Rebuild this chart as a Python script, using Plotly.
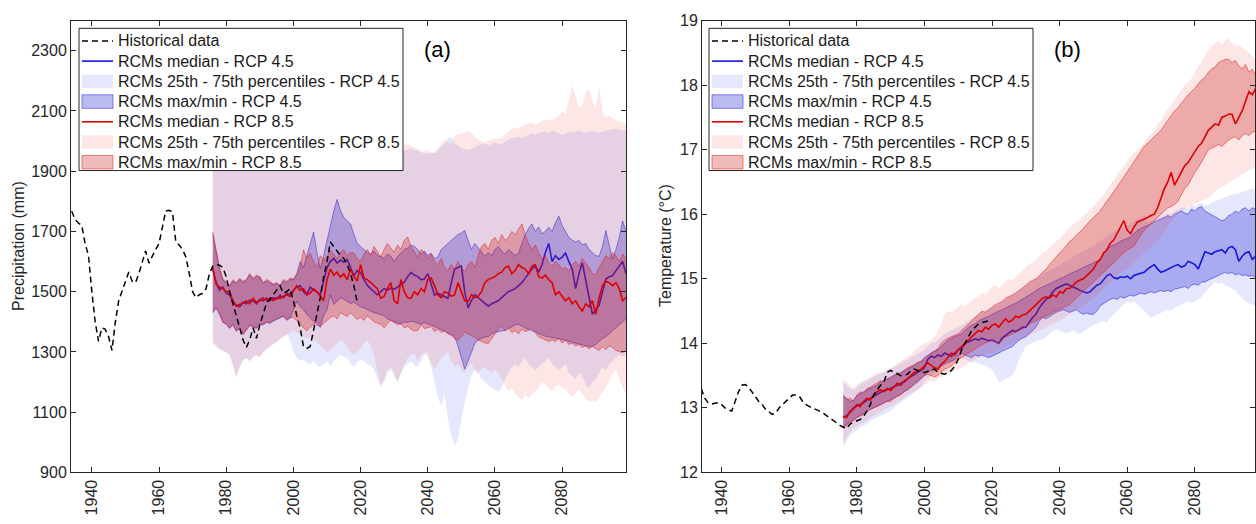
import plotly.graph_objects as go

W, H = 1256, 524
FONT = "Liberation Sans, Arial, sans-serif"
TXT = "#262626"

# ---------------- data ----------------
HIST_START = 1934
PROJ_START = 1976
XTICKS = [1940, 1960, 1980, 2000, 2020, 2040, 2060, 2080]
YTICKS_A = [900, 1100, 1300, 1500, 1700, 1900, 2100, 2300]
YTICKS_B = [12, 13, 14, 15, 16, 17, 18, 19]

# Panel (a): precipitation (mm)
HIST_A = [1767, 1740, 1728, 1720, 1660, 1620,
          1500, 1400, 1335, 1380, 1375, 1350, 1305, 1400, 1470, 1500,
          1530, 1565, 1535, 1530, 1560, 1600, 1635, 1595, 1620, 1640,
          1660, 1720, 1768, 1770, 1765, 1665, 1655, 1640, 1615, 1560,
          1500, 1480, 1490, 1495, 1510, 1560, 1585, 1590, 1588, 1580,
          1550, 1500, 1460, 1425, 1380, 1340, 1315, 1340, 1380, 1345,
          1390, 1430, 1462, 1475, 1490, 1505, 1520, 1495, 1500, 1510,
          1470, 1420, 1380, 1318, 1312, 1318, 1370, 1420, 1480, 1550,
          1600, 1665, 1650, 1635, 1620, 1610, 1590, 1560, 1520, 1465]

MED45_A = [1575, 1530, 1505, 1515, 1495, 1490, 1465, 1455, 1450, 1465,
           1460, 1472, 1470, 1460, 1475, 1470, 1478, 1470, 1480, 1475,
           1488, 1480, 1495, 1490, 1505, 1515, 1520, 1500, 1490, 1515,
           1505, 1500, 1490, 1540, 1580, 1600, 1610, 1595, 1605, 1598,
           1607, 1580, 1553, 1570, 1564, 1540, 1521, 1510, 1500, 1489,
           1500, 1510, 1505, 1512, 1508, 1515, 1525, 1532, 1550, 1564,
           1555, 1550, 1540, 1542, 1560, 1520, 1489, 1495, 1490, 1485,
           1478, 1530, 1575, 1580, 1585, 1500, 1446, 1470, 1490, 1480,
           1470, 1460, 1452, 1460, 1465, 1470, 1480, 1490, 1500, 1505,
           1510, 1520, 1530, 1545, 1560, 1575, 1585, 1565, 1590, 1630,
           1660, 1600, 1620, 1607, 1615, 1628, 1600, 1575, 1510, 1560,
           1596, 1540, 1480, 1425, 1440, 1455, 1500, 1542, 1550, 1553,
           1570, 1585, 1600, 1560]

MED85_A = [1580, 1525, 1515, 1510, 1500, 1500, 1470, 1452, 1458, 1462,
           1470, 1460, 1478, 1465, 1470, 1480, 1470, 1478, 1470, 1480,
           1478, 1485, 1490, 1484, 1500, 1520, 1505, 1510, 1490, 1495,
           1510, 1500, 1485, 1470, 1540, 1575, 1555, 1565, 1548, 1560,
           1540, 1575, 1550, 1535, 1590, 1545, 1540, 1530, 1520, 1510,
           1478, 1485, 1510, 1530, 1470, 1460, 1540, 1500, 1480, 1478,
           1500, 1490, 1510, 1500, 1540, 1545, 1520, 1490, 1480, 1500,
           1495, 1485, 1490, 1530, 1500, 1470, 1468, 1490, 1480, 1485,
           1500, 1530, 1540, 1545, 1550, 1560, 1565, 1580, 1585, 1560,
           1570, 1590, 1580, 1575, 1560, 1585, 1590, 1550, 1545, 1555,
           1540, 1530, 1490, 1500, 1485, 1470, 1480, 1460, 1470, 1450,
           1436, 1460, 1450, 1470, 1425, 1480, 1520, 1535, 1530, 1520,
           1530, 1510, 1470, 1480]

P25_45_LO_A = [1334, 1320, 1310, 1305, 1300, 1290, 1260, 1216, 1250, 1275,
               1280, 1270, 1285, 1290, 1285, 1300, 1310, 1320, 1328, 1335,
               1345, 1350, 1360, 1340, 1300, 1280, 1270, 1275, 1265, 1260,
               1270, 1255, 1250, 1260, 1270, 1253, 1270, 1280, 1290, 1285,
               1280, 1260, 1250, 1265, 1275, 1270, 1260, 1255, 1240, 1210,
               1185, 1200, 1230, 1240, 1220, 1200, 1230, 1250, 1260, 1270,
               1255, 1250, 1270, 1290, 1300, 1250, 1200, 1150, 1120, 1160,
               1080, 1020, 987, 1010, 1080, 1134, 1180, 1220, 1240, 1230,
               1210, 1200, 1190, 1180, 1175, 1167, 1180, 1210, 1230, 1250,
               1260, 1250, 1270, 1280, 1260, 1250, 1240, 1250, 1260, 1270,
               1280, 1260, 1250, 1240, 1250, 1260, 1230, 1220, 1210, 1230,
               1220, 1190, 1180, 1200, 1210, 1230, 1250, 1240, 1260, 1270,
               1280, 1290, 1285, 1290]
P25_45_HI_A = [1960, 1955, 1948, 1952, 1945, 1950, 1958, 1950, 1945, 1955,
               1960, 1952, 1948, 1955, 1962, 1958, 1950, 1955, 1960, 1965,
               1958, 1952, 1960, 1968, 1962, 1955, 1960, 1965, 1958, 1962,
               1970, 1965, 1958, 1962, 1968, 1960, 1955, 1962, 1970, 1965,
               1960, 1958, 1965, 1970, 1962, 1958, 1965, 1960, 1955, 1962,
               1968, 1960, 1955, 1962, 1958, 1965, 1965, 1968, 1972, 1975,
               1970, 1968, 1962, 1960, 1958, 1962, 1960, 1968, 1980, 1992,
               2010, 2014, 1990, 1985, 1975, 1972, 1970, 1975, 1980, 1985,
               1990, 1992, 1985, 1990, 1995, 1992, 1990, 1998, 2005, 2010,
               2012, 2014, 2010, 2015, 2020, 2025, 2022, 2028, 2030, 2032,
               2028, 2035, 2030, 2025, 2020, 2025, 2030, 2028, 2032, 2035,
               2030, 2028, 2032, 2035, 2030, 2028, 2032, 2035, 2038, 2040,
               2042, 2038, 2035, 2035]
MM45_LO_A = [1430, 1445, 1425, 1398, 1392, 1378, 1390, 1368, 1378, 1358,
             1372, 1388, 1382, 1378, 1392, 1390, 1398, 1395, 1402, 1408,
             1412, 1418, 1405, 1412, 1440, 1468, 1450, 1440, 1425, 1414,
             1400, 1390, 1382, 1420, 1440, 1489, 1457, 1470, 1480, 1475,
             1468, 1460, 1465, 1457, 1450, 1446, 1440, 1435, 1430, 1428,
             1425, 1420, 1410, 1405, 1400, 1395, 1392, 1400, 1398, 1402,
             1400, 1395, 1392, 1398, 1392, 1390, 1385, 1380, 1375, 1370,
             1365, 1358, 1350, 1320, 1280, 1243, 1270, 1300, 1328, 1340,
             1345, 1350, 1350, 1360, 1365, 1368, 1370, 1371, 1378, 1385,
             1390, 1392, 1385, 1380, 1375, 1370, 1365, 1360, 1355, 1352,
             1350, 1348, 1345, 1342, 1340, 1339, 1335, 1332, 1330, 1328,
             1325, 1320, 1318, 1320, 1325, 1335, 1345, 1350, 1360, 1370,
             1380, 1392, 1400, 1410]
MM45_HI_A = [1690, 1630, 1575, 1540, 1525, 1518, 1535, 1528, 1540, 1530,
             1538, 1555, 1540, 1550, 1548, 1528, 1535, 1530, 1522, 1528,
             1518, 1535, 1530, 1540, 1540, 1560, 1600, 1580, 1620, 1660,
             1698, 1630, 1575, 1620, 1671, 1720, 1767, 1806, 1770, 1746,
             1735, 1725, 1690, 1660, 1650, 1639, 1630, 1625, 1635, 1620,
             1617, 1610, 1625, 1618, 1600, 1617, 1630, 1640, 1645, 1655,
             1650, 1640, 1625, 1635, 1620, 1628, 1610, 1615, 1640, 1650,
             1660, 1671, 1680, 1690, 1695, 1703, 1670, 1640, 1660, 1645,
             1630, 1617, 1630, 1620, 1640, 1650, 1635, 1625, 1640, 1630,
             1620, 1628, 1660, 1690, 1710, 1725, 1700, 1715, 1692, 1700,
             1714, 1700, 1730, 1751, 1720, 1700, 1680, 1671, 1665, 1670,
             1655, 1660, 1640, 1630, 1620, 1617, 1650, 1703, 1650, 1607,
             1640, 1680, 1735, 1700]
P25_85_LO_A = [1330, 1318, 1308, 1302, 1298, 1288, 1255, 1215, 1248, 1272,
               1278, 1268, 1282, 1288, 1282, 1298, 1308, 1318, 1325, 1332,
               1342, 1348, 1356, 1362, 1370, 1365, 1355, 1350, 1345, 1350,
               1340, 1330, 1320, 1310, 1300, 1308, 1320, 1330, 1340, 1335,
               1320, 1300, 1290, 1300, 1310, 1330, 1340, 1320, 1290, 1240,
               1189, 1210, 1240, 1250, 1230, 1200, 1230, 1260, 1280, 1290,
               1296, 1270, 1290, 1300, 1280, 1260, 1243, 1260, 1280, 1290,
               1300, 1270, 1250, 1260, 1240, 1230, 1250, 1260, 1240, 1230,
               1245, 1250, 1240, 1230, 1243, 1230, 1210, 1190, 1170, 1180,
               1160, 1150, 1140, 1155, 1147, 1160, 1170, 1180, 1200, 1190,
               1180, 1170, 1185, 1190, 1180, 1175, 1160, 1150, 1165, 1175,
               1160, 1145, 1135, 1140, 1134, 1150, 1165, 1180, 1200, 1230,
               1240, 1210, 1180, 1160]
P25_85_HI_A = [1985, 1980, 1975, 1978, 1972, 1978, 1985, 1975, 1970, 1980,
               1988, 1978, 1972, 1980, 1990, 1985, 1975, 1980, 1988, 1992,
               1985, 1978, 1988, 1995, 1990, 1982, 1988, 1992, 1985, 1990,
               1998, 1992, 1985, 1990, 1995, 1988, 1982, 1990, 1998, 1992,
               1988, 1985, 1992, 1998, 1990, 1985, 1992, 1988, 1982, 1990,
               1995, 1988, 1982, 1990, 1985, 1992, 1992, 1985, 1990, 1982,
               1978, 1975, 1968, 1965, 1970, 1960, 1962, 1975, 1990, 2005,
               1995, 1990, 2018, 2022, 2025, 2030, 2032, 2025, 2015, 2005,
               2000, 1995, 2000, 2005, 2010, 2008, 2012, 2020, 2030, 2040,
               2045, 2040, 2050, 2055, 2060, 2062, 2055, 2060, 2068, 2070,
               2072, 2070, 2075, 2085, 2099, 2090, 2140, 2185, 2150, 2110,
               2120, 2160, 2174, 2130, 2110, 2180, 2100, 2080, 2085, 2075,
               2070, 2065, 2060, 2057]
MM85_LO_A = [1433, 1450, 1430, 1400, 1395, 1380, 1392, 1371, 1380, 1360,
             1375, 1390, 1385, 1380, 1395, 1392, 1400, 1398, 1405, 1410,
             1415, 1420, 1408, 1415, 1414, 1405, 1395, 1380, 1370, 1382,
             1390, 1400, 1385, 1395, 1405, 1414, 1420, 1410, 1430, 1425,
             1418, 1430, 1420, 1408, 1415, 1405, 1420, 1410, 1400, 1395,
             1392, 1380, 1395, 1405, 1398, 1390, 1395, 1380, 1385, 1375,
             1370, 1371, 1390, 1378, 1380, 1385, 1368, 1375, 1365, 1370,
             1360, 1355, 1345, 1339, 1350, 1365, 1360, 1355, 1348, 1340,
             1335, 1330, 1328, 1345, 1360, 1375, 1385, 1370, 1380, 1365,
             1370, 1360, 1375, 1368, 1372, 1380, 1365, 1350, 1345, 1340,
             1335, 1340, 1335, 1345, 1330, 1338, 1325, 1330, 1320, 1325,
             1315, 1320, 1310, 1318, 1312, 1305, 1318, 1308, 1320, 1315,
             1305, 1300, 1297, 1310]
MM85_HI_A = [1698, 1640, 1580, 1542, 1530, 1521, 1540, 1530, 1545, 1535,
             1540, 1560, 1545, 1555, 1550, 1530, 1540, 1535, 1525, 1530,
             1521, 1540, 1535, 1545, 1542, 1555, 1580, 1639, 1610, 1628,
             1600, 1580, 1620, 1605, 1615, 1639, 1625, 1610, 1630, 1639,
             1620, 1630, 1628, 1610, 1600, 1625, 1640, 1620, 1650, 1630,
             1615, 1640, 1660, 1645, 1630, 1655, 1640, 1670, 1682, 1650,
             1630, 1615, 1640, 1630, 1610, 1625, 1600, 1590, 1610, 1580,
             1570, 1590, 1575, 1600, 1580, 1565, 1590, 1600, 1580, 1620,
             1650, 1660, 1640, 1670, 1680, 1660, 1690, 1670, 1680, 1700,
             1690, 1710, 1725, 1690, 1660, 1640, 1655, 1630, 1610, 1620,
             1595, 1585, 1600, 1590, 1575, 1580, 1570, 1590, 1600, 1585,
             1610, 1595, 1580, 1560, 1555, 1580, 1600, 1620, 1610, 1630,
             1620, 1600, 1625, 1610]

# Panel (b): temperature (deg C)
HIST_B = [13.30, 13.15, 13.08, 13.06, 13.07, 13.08,
          13.05, 13.00, 12.97, 12.95, 13.10, 13.25, 13.35, 13.36, 13.32, 13.25,
          13.18, 13.10, 13.05, 12.98, 12.94, 12.90, 12.92, 13.00, 13.05, 13.10,
          13.15, 13.20, 13.20, 13.18, 13.10, 13.05, 13.02, 13.00, 12.97, 12.95,
          12.92, 12.88, 12.85, 12.80, 12.77, 12.73, 12.70, 12.68, 12.75, 12.78,
          12.80, 12.82, 12.87, 12.95, 13.05, 13.20, 13.27, 13.35, 13.40, 13.55,
          13.58, 13.55, 13.52, 13.50, 13.51, 13.52, 13.58, 13.60, 13.58, 13.55,
          13.55, 13.57, 13.58, 13.60, 13.55, 13.53, 13.52, 13.55, 13.58, 13.65,
          13.75, 13.90, 14.00, 14.12, 14.20, 14.25, 14.30, 14.32, 14.34, 14.35]

MED45_B = [12.85, 12.88, 12.93, 13.00, 13.03, 13.05, 13.08, 13.12, 13.15, 13.18,
           13.22, 13.25, 13.27, 13.28, 13.30, 13.32, 13.35, 13.38, 13.40, 13.45,
           13.48, 13.52, 13.55, 13.58, 13.62, 13.75, 13.80, 13.78, 13.82, 13.80,
           13.85, 13.83, 13.80, 13.85, 13.90, 13.92, 14.00, 14.02, 14.05, 14.07,
           14.05, 14.08, 14.06, 14.04, 14.05, 14.02, 14.00, 14.08, 14.12, 14.15,
           14.20, 14.18, 14.22, 14.25, 14.25, 14.32, 14.40, 14.45, 14.55, 14.62,
           14.68, 14.72, 14.80, 14.85, 14.88, 14.90, 14.92, 14.90, 14.88, 14.85,
           14.82, 14.80, 14.78, 14.80, 14.85, 14.90, 14.92, 14.98, 15.05, 15.07,
           15.02, 15.00, 15.03, 15.02, 15.04, 15.00, 15.05, 15.07, 15.08, 15.10,
           15.15, 15.18, 15.22, 15.15, 15.10, 15.12, 15.15, 15.17, 15.20, 15.22,
           15.18, 15.20, 15.27, 15.25, 15.22, 15.15, 15.30, 15.42, 15.40, 15.38,
           15.42, 15.44, 15.45, 15.40, 15.48, 15.50, 15.45, 15.27, 15.35, 15.40,
           15.42, 15.30, 15.35, 15.38]

MED85_B = [12.87, 12.85, 12.95, 12.98, 13.05, 13.02, 13.10, 13.15, 13.12, 13.20,
           13.25, 13.28, 13.25, 13.30, 13.27, 13.33, 13.38, 13.35, 13.42, 13.45,
           13.50, 13.55, 13.57, 13.60, 13.65, 13.70, 13.66, 13.62, 13.60, 13.68,
           13.72, 13.78, 13.85, 13.82, 13.90, 13.95, 14.00, 14.05, 14.10, 14.15,
           14.20, 14.18, 14.25, 14.22, 14.28, 14.30, 14.25, 14.32, 14.38, 14.33,
           14.36, 14.42, 14.40, 14.44, 14.45, 14.50, 14.55, 14.60, 14.65, 14.70,
           14.72, 14.70, 14.75, 14.72, 14.80, 14.78, 14.85, 14.85, 14.90, 14.95,
           14.98, 15.00, 15.05, 15.10, 15.15, 15.25, 15.30, 15.40, 15.45, 15.55,
           15.60, 15.70, 15.80, 15.90, 15.75, 15.70, 15.80, 15.88, 15.90, 15.92,
           15.95, 15.98, 16.00, 16.10, 16.25, 16.40, 16.50, 16.65, 16.45, 16.55,
           16.65, 16.75, 16.80, 16.88, 16.95, 17.05, 17.10, 17.20, 17.30, 17.35,
           17.40, 17.38, 17.50, 17.52, 17.55, 17.55, 17.40, 17.50, 17.60, 17.75,
           17.90, 17.85, 17.95, 17.85]

P25_45_LO_B = [12.40, 12.50, 12.58, 12.62, 12.65, 12.70, 12.72, 12.75, 12.80, 12.82,
               12.85, 12.88, 12.90, 12.93, 12.95, 13.00, 13.05, 13.08, 13.12, 13.15,
               13.20, 13.24, 13.28, 13.32, 13.40, 13.45, 13.50, 13.55, 13.58, 13.62,
               13.66, 13.70, 13.70, 13.72, 13.74, 13.76, 13.75, 13.72, 13.70, 13.72,
               13.70, 13.68, 13.65, 13.62, 13.60, 13.50, 13.40, 13.42, 13.45, 13.48,
               13.50, 13.60, 13.75, 13.85, 13.95, 13.98, 14.00, 14.02, 14.05, 14.05,
               14.10, 14.15, 14.20, 14.22, 14.20, 14.18, 14.15, 14.18, 14.20, 14.16,
               14.15, 14.18, 14.22, 14.25, 14.28, 14.30, 14.32, 14.35, 14.32, 14.40,
               14.45, 14.50, 14.55, 14.60, 14.65, 14.62, 14.65, 14.60, 14.55, 14.50,
               14.45, 14.40, 14.42, 14.45, 14.48, 14.50, 14.52, 14.50, 14.55, 14.58,
               14.60, 14.62, 14.65, 14.63, 14.65, 14.68, 14.72, 14.78, 14.85, 14.90,
               14.95, 14.92, 14.95, 14.90, 14.88, 14.85, 14.82, 14.75, 14.70, 14.65,
               14.62, 14.60, 14.58, 14.55]
P25_45_HI_B = [13.40, 13.35, 13.30, 13.28, 13.32, 13.36, 13.40, 13.42, 13.45, 13.48,
               13.52, 13.55, 13.54, 13.58, 13.60, 13.63, 13.66, 13.68, 13.72, 13.75,
               13.78, 13.80, 13.84, 13.86, 13.90, 13.95, 14.00, 14.02, 14.05, 14.10,
               14.15, 14.18, 14.20, 14.22, 14.25, 14.28, 14.32, 14.35, 14.38, 14.42,
               14.45, 14.48, 14.50, 14.52, 14.55, 14.58, 14.60, 14.64, 14.68, 14.72,
               14.75, 14.78, 14.82, 14.86, 14.90, 14.93, 14.96, 15.00, 15.04, 15.08,
               15.10, 15.12, 15.15, 15.18, 15.20, 15.24, 15.28, 15.30, 15.34, 15.38,
               15.40, 15.42, 15.45, 15.48, 15.50, 15.55, 15.58, 15.62, 15.66, 15.70,
               15.72, 15.75, 15.78, 15.80, 15.82, 15.85, 15.90, 15.92, 15.95, 15.98,
               15.88, 15.90, 15.92, 15.93, 15.95, 15.98, 16.02, 16.00, 16.05, 16.08,
               16.10, 16.10, 16.08, 16.14, 16.12, 16.16, 16.18, 16.14, 16.15, 16.18,
               16.20, 16.22, 16.24, 16.26, 16.28, 16.30, 16.32, 16.32, 16.35, 16.36,
               16.38, 16.40, 16.40, 16.38]
MM45_LO_B = [12.70, 12.75, 12.78, 12.82, 12.85, 12.88, 12.92, 12.95, 12.98, 13.00,
             13.03, 13.05, 13.08, 13.10, 13.12, 13.15, 13.18, 13.22, 13.25, 13.28,
             13.32, 13.35, 13.40, 13.45, 13.50, 13.55, 13.58, 13.60, 13.62, 13.65,
             13.68, 13.70, 13.72, 13.75, 13.80, 13.85, 13.82, 13.80, 13.78, 13.82,
             13.80, 13.82, 13.80, 13.78, 13.80, 13.82, 13.85, 13.88, 13.90, 13.92,
             13.95, 14.00, 14.05, 14.08, 14.10, 14.15, 14.20, 14.25, 14.35, 14.40,
             14.38, 14.42, 14.45, 14.48, 14.50, 14.52, 14.50, 14.48, 14.50, 14.52,
             14.48, 14.45, 14.47, 14.45, 14.45, 14.50, 14.58, 14.62, 14.65, 14.68,
             14.70, 14.68, 14.72, 14.70, 14.72, 14.75, 14.73, 14.75, 14.78, 14.76,
             14.78, 14.80, 14.78, 14.80, 14.82, 14.80, 14.82, 14.80, 14.84, 14.85,
             14.86, 14.88, 14.85, 14.90, 14.92, 14.90, 14.95, 14.95, 14.98, 15.00,
             15.02, 15.05, 15.08, 15.10, 15.08, 15.10, 15.06, 15.08, 15.05, 15.06,
             15.04, 15.05, 15.02, 15.00]
MM45_HI_B = [13.18, 13.15, 13.10, 13.12, 13.18, 13.22, 13.25, 13.28, 13.30, 13.32,
             13.35, 13.40, 13.42, 13.45, 13.48, 13.50, 13.52, 13.55, 13.58, 13.60,
             13.62, 13.65, 13.70, 13.72, 13.78, 13.82, 13.85, 13.88, 13.90, 13.95,
             14.00, 14.05, 14.08, 14.10, 14.12, 14.15, 14.20, 14.25, 14.28, 14.30,
             14.35, 14.38, 14.40, 14.42, 14.45, 14.48, 14.50, 14.52, 14.55, 14.58,
             14.60, 14.62, 14.65, 14.68, 14.72, 14.75, 14.78, 14.82, 14.85, 14.88,
             14.90, 14.92, 14.95, 14.98, 15.00, 15.02, 15.05, 15.08, 15.10, 15.12,
             15.15, 15.18, 15.20, 15.22, 15.25, 15.28, 15.30, 15.38, 15.45, 15.50,
             15.52, 15.55, 15.58, 15.60, 15.62, 15.65, 15.70, 15.75, 15.78, 15.80,
             15.82, 15.85, 15.88, 15.90, 15.92, 15.95, 15.98, 15.95, 16.00, 16.02,
             16.05, 16.02, 16.00, 16.08, 16.05, 16.10, 16.12, 16.05, 16.02, 15.98,
             15.95, 15.92, 15.90, 15.92, 15.98, 16.00, 16.05, 16.02, 16.08, 16.10,
             16.05, 16.10, 16.08, 16.05]
P25_85_LO_B = [12.45, 12.55, 12.62, 12.68, 12.72, 12.75, 12.78, 12.80, 12.85, 12.88,
               12.92, 12.95, 12.98, 13.00, 13.02, 13.05, 13.08, 13.12, 13.15, 13.20,
               13.22, 13.25, 13.28, 13.32, 13.35, 13.38, 13.42, 13.40, 13.45, 13.48,
               13.50, 13.52, 13.55, 13.58, 13.60, 13.62, 13.65, 13.70, 13.72, 13.75,
               13.78, 13.80, 13.82, 13.85, 13.85, 13.88, 13.90, 13.92, 13.95, 13.98,
               14.00, 14.02, 14.05, 14.08, 14.10, 14.12, 14.15, 14.18, 14.20, 14.22,
               14.25, 14.28, 14.30, 14.32, 14.35, 14.38, 14.42, 14.45, 14.50, 14.52,
               14.55, 14.58, 14.62, 14.66, 14.70, 14.75, 14.80, 14.85, 14.90, 14.95,
               15.00, 15.05, 15.10, 15.12, 15.15, 15.20, 15.25, 15.30, 15.35, 15.40,
               15.45, 15.50, 15.55, 15.60, 15.65, 15.72, 15.80, 15.88, 15.95, 16.00,
               16.05, 16.08, 16.10, 16.12, 16.15, 16.18, 16.20, 16.22, 16.25, 16.30,
               16.35, 16.40, 16.42, 16.45, 16.50, 16.52, 16.55, 16.58, 16.62, 16.65,
               16.68, 16.70, 16.72, 16.70]
P25_85_HI_B = [13.45, 13.40, 13.35, 13.30, 13.35, 13.40, 13.42, 13.45, 13.48, 13.50,
               13.55, 13.52, 13.58, 13.60, 13.62, 13.65, 13.70, 13.72, 13.75, 13.80,
               13.82, 13.88, 13.92, 13.95, 14.00, 14.02, 14.05, 14.10, 14.20, 14.30,
               14.45, 14.50, 14.48, 14.52, 14.55, 14.60, 14.58, 14.62, 14.65, 14.70,
               14.72, 14.78, 14.75, 14.82, 14.88, 14.90, 14.85, 14.92, 14.95, 15.00,
               14.98, 15.02, 15.08, 15.12, 15.18, 15.22, 15.25, 15.30, 15.35, 15.40,
               15.42, 15.48, 15.52, 15.58, 15.62, 15.68, 15.75, 15.80, 15.85, 15.88,
               15.92, 15.98, 16.02, 16.08, 16.12, 16.18, 16.25, 16.30, 16.38, 16.45,
               16.52, 16.60, 16.68, 16.75, 16.82, 16.90, 16.95, 17.00, 17.05, 17.10,
               17.18, 17.25, 17.30, 17.40, 17.45, 17.55, 17.62, 17.70, 17.78, 17.85,
               17.92, 18.00, 18.05, 18.10, 18.20, 18.28, 18.35, 18.45, 18.55, 18.60,
               18.65, 18.68, 18.62, 18.70, 18.72, 18.65, 18.60, 18.62, 18.58, 18.55,
               18.50, 18.45, 18.40, 18.45]
MM85_LO_B = [12.70, 12.72, 12.78, 12.80, 12.85, 12.88, 12.90, 12.95, 12.98, 13.00,
             13.02, 13.05, 13.08, 13.10, 13.10, 13.15, 13.18, 13.20, 13.25, 13.28,
             13.32, 13.38, 13.42, 13.45, 13.50, 13.52, 13.50, 13.48, 13.50, 13.55,
             13.60, 13.62, 13.65, 13.70, 13.75, 13.78, 13.82, 13.85, 13.88, 13.92,
             13.95, 13.98, 14.00, 14.02, 14.05, 14.02, 14.00, 14.05, 14.10, 14.12,
             14.15, 14.18, 14.20, 14.22, 14.25, 14.30, 14.32, 14.35, 14.38, 14.40,
             14.42, 14.45, 14.48, 14.50, 14.52, 14.55, 14.58, 14.60, 14.65, 14.70,
             14.75, 14.80, 14.85, 14.90, 14.95, 15.00, 15.05, 15.10, 15.15, 15.20,
             15.25, 15.30, 15.35, 15.40, 15.45, 15.48, 15.50, 15.60, 15.68, 15.75,
             15.80, 15.85, 15.90, 15.95, 16.00, 16.05, 16.10, 16.12, 16.15, 16.20,
             16.30, 16.40, 16.45, 16.55, 16.65, 16.72, 16.80, 16.90, 17.00, 17.02,
             17.05, 17.08, 17.05, 17.10, 17.15, 17.18, 17.20, 17.15, 17.22, 17.25,
             17.22, 17.27, 17.28, 17.30]
MM85_HI_B = [13.20, 13.12, 13.15, 13.10, 13.20, 13.25, 13.22, 13.30, 13.32, 13.35,
             13.38, 13.42, 13.40, 13.45, 13.45, 13.50, 13.55, 13.52, 13.58, 13.62,
             13.65, 13.68, 13.70, 13.72, 13.75, 13.80, 13.85, 13.88, 13.92, 14.00,
             14.05, 14.08, 14.10, 14.12, 14.15, 14.20, 14.25, 14.30, 14.35, 14.40,
             14.45, 14.50, 14.48, 14.52, 14.55, 14.60, 14.62, 14.65, 14.70, 14.72,
             14.75, 14.78, 14.82, 14.85, 14.90, 14.95, 14.98, 15.00, 15.05, 15.10,
             15.15, 15.22, 15.28, 15.35, 15.40, 15.45, 15.52, 15.58, 15.62, 15.68,
             15.72, 15.78, 15.85, 15.90, 15.95, 16.00, 16.05, 16.13, 16.20, 16.28,
             16.35, 16.42, 16.50, 16.58, 16.65, 16.72, 16.80, 16.90, 16.98, 17.05,
             17.10, 17.15, 17.20, 17.25, 17.30, 17.38, 17.45, 17.52, 17.60, 17.65,
             17.72, 17.78, 17.85, 17.90, 17.95, 18.02, 18.08, 18.12, 18.20, 18.25,
             18.28, 18.35, 18.38, 18.40, 18.40, 18.35, 18.38, 18.30, 18.25, 18.32,
             18.20, 18.25, 18.15, 18.18]

LEGEND_LABELS = ["Historical data",
                 "RCMs median - RCP 4.5",
                 "RCMs 25th - 75th percentiles - RCP 4.5",
                 "RCMs max/min - RCP 4.5",
                 "RCMs median - RCP 8.5",
                 "RCMs 25th - 75th percentiles - RCP 8.5",
                 "RCMs max/min - RCP 8.5"]

# ---------------- styles ----------------
PALE_BLUE = "rgba(40,60,230,0.12)"
PALE_RED = "rgba(235,60,60,0.13)"
DARK_BLUE = "rgba(30,30,210,0.30)"
DARK_BLUE_EDGE = "rgba(40,40,230,0.55)"
DARK_RED = "rgba(205,30,30,0.30)"
DARK_RED_EDGE = "rgba(225,40,40,0.55)"
BLUE_LINE = "rgb(20,20,225)"
RED_LINE = "rgb(225,0,0)"

fig = go.Figure()


def years(start, arr):
    return list(range(start, start + len(arr)))


def band(lo, hi, fill, edge, xa, ya):
    assert len(lo) == len(hi) == 124, (len(lo), len(hi))
    x = years(PROJ_START, lo)
    lw = 1 if edge else 0
    lc = edge if edge else "rgba(0,0,0,0)"
    fig.add_trace(go.Scatter(x=x, y=lo, mode="lines", line=dict(width=lw, color=lc),
                             showlegend=False, hoverinfo="skip", xaxis=xa, yaxis=ya))
    fig.add_trace(go.Scatter(x=x, y=hi, mode="lines", line=dict(width=lw, color=lc),
                             fill="tonexty", fillcolor=fill,
                             showlegend=False, hoverinfo="skip", xaxis=xa, yaxis=ya))


def median(arr, color, xa, ya):
    assert len(arr) == 124, len(arr)
    fig.add_trace(go.Scatter(x=years(PROJ_START, arr), y=arr, mode="lines",
                             line=dict(width=1.6, color=color),
                             showlegend=False, xaxis=xa, yaxis=ya))


def hist(arr, xa, ya):
    assert len(arr) == 86, len(arr)
    fig.add_trace(go.Scatter(x=years(HIST_START, arr), y=arr, mode="lines",
                             line=dict(width=1.5, color="black", dash="6px,4px"),
                             showlegend=False, xaxis=xa, yaxis=ya))


for xa, ya, d in [("x", "y", dict(h=HIST_A, m45=MED45_A, m85=MED85_A,
                                  p45=(P25_45_LO_A, P25_45_HI_A), x45=(MM45_LO_A, MM45_HI_A),
                                  p85=(P25_85_LO_A, P25_85_HI_A), x85=(MM85_LO_A, MM85_HI_A))),
                  ("x2", "y2", dict(h=HIST_B, m45=MED45_B, m85=MED85_B,
                                    p45=(P25_45_LO_B, P25_45_HI_B), x45=(MM45_LO_B, MM45_HI_B),
                                    p85=(P25_85_LO_B, P25_85_HI_B), x85=(MM85_LO_B, MM85_HI_B)))]:
    band(*d["p45"], PALE_BLUE, None, xa, ya)
    band(*d["x45"], DARK_BLUE, DARK_BLUE_EDGE, xa, ya)
    median(d["m45"], BLUE_LINE, xa, ya)
    band(*d["p85"], PALE_RED, None, xa, ya)
    band(*d["x85"], DARK_RED, DARK_RED_EDGE, xa, ya)
    median(d["m85"], RED_LINE, xa, ya)
    hist(d["h"], xa, ya)


def fx(x):
    return x / W


def fy(y):
    return 1 - y / H


axis_common = dict(ticks="inside", ticklen=5, tickwidth=1, tickcolor=TXT,
                   showline=True, linecolor=TXT, linewidth=1, mirror="ticks",
                   showgrid=False, zeroline=False,
                   tickfont=dict(family=FONT, size=16, color=TXT))

fig.update_layout(
    width=W, height=H, margin=dict(l=0, r=0, t=0, b=0),
    paper_bgcolor="white", plot_bgcolor="white", showlegend=False,
    font=dict(family=FONT, color=TXT),
    xaxis=dict(domain=[fx(71), fx(626)], range=[1933.8, 2099.0], tickvals=XTICKS,
               tickangle=-90, anchor="y", **axis_common),
    yaxis=dict(domain=[fy(480), fy(13)], range=[900, 2400], tickvals=YTICKS_A,
               anchor="x", **axis_common),
    xaxis2=dict(domain=[fx(702), fx(1255)], range=[1934.2, 2097.8], tickvals=XTICKS,
                tickangle=-90, anchor="y2", **axis_common),
    yaxis2=dict(domain=[fy(480), fy(13)], range=[12, 19], tickvals=YTICKS_B,
                anchor="x2", **axis_common),
)

shapes = []
annotations = []


def label(x, y, text, size, color=TXT, angle=0, xanchor="center"):
    annotations.append(dict(x=fx(x), y=fy(y), xref="paper", yref="paper", text=text,
                            textangle=angle, showarrow=False, xanchor=xanchor,
                            yanchor="middle", font=dict(family=FONT, size=size, color=color)))


label(18, 246, "Precipitation (mm)", 16, angle=-90)
label(665, 246, "Temperature (°C)", 16, angle=-90)
label(437, 43, "(a)", 22, color="black")
label(1067, 43, "(b)", 22, color="black")

# hand-built legends (one per panel)
swatches = [("dash", "black"), ("line", BLUE_LINE), ("rect", PALE_BLUE, None),
            ("rect", DARK_BLUE, DARK_BLUE_EDGE), ("line", RED_LINE),
            ("rect", PALE_RED, None), ("rect", DARK_RED, DARK_RED_EDGE)]

for bx in (79, 709):
    shapes.append(dict(type="rect", xref="paper", yref="paper",
                       x0=fx(bx), x1=fx(bx + 324), y0=fy(21), y1=fy(168),
                       fillcolor="white", line=dict(color=TXT, width=1), layer="above"))
    for i, (lab, sw) in enumerate(zip(LEGEND_LABELS, swatches)):
        cy = 34 + 20.9 * i
        sx0, sx1 = bx + 3, bx + 34
        if sw[0] == "dash":
            shapes.append(dict(type="line", xref="paper", yref="paper",
                               x0=fx(sx0), x1=fx(sx1), y0=fy(cy), y1=fy(cy),
                               line=dict(color="black", width=1.5, dash="6px,4px"),
                               layer="above"))
        elif sw[0] == "line":
            shapes.append(dict(type="line", xref="paper", yref="paper",
                               x0=fx(sx0), x1=fx(sx1), y0=fy(cy), y1=fy(cy),
                               line=dict(color=sw[1], width=1.6), layer="above"))
        else:
            shapes.append(dict(type="rect", xref="paper", yref="paper",
                               x0=fx(sx0), x1=fx(sx1), y0=fy(cy - 7), y1=fy(cy + 7),
                               fillcolor=sw[1],
                               line=dict(color=sw[2] if sw[2] else "rgba(0,0,0,0)",
                                         width=1 if sw[2] else 0),
                               layer="above"))
        label(bx + 37, cy, lab, 16, color="#1a1a1a", xanchor="left")

fig.update_layout(shapes=shapes, annotations=annotations)

# remove the default 8px page margin so the 1256x524 figure fills the window exactly,
# and hide the interactive mode bar
fig.write_html("out.html",
               config=dict(displayModeBar=False),
               post_script="document.body.style.margin='0';"
                           "document.documentElement.style.overflow='hidden';")
